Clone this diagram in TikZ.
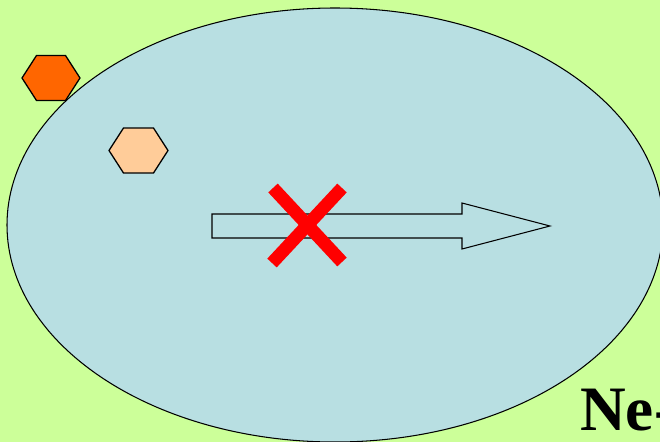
\documentclass[tikz,border=0pt]{standalone}
\usepackage{fontspec}
\setmainfont{Liberation Serif}
\usetikzlibrary{positioning}
\definecolor{fondoVerde}{HTML}{CCFF99}
\definecolor{celdaAzul}{HTML}{B8DFE2}
\definecolor{hexNaranja}{HTML}{FF6600}
\definecolor{hexMelocoton}{HTML}{FFCC99}

\begin{document}
\begin{tikzpicture}[x=0.03cm, y=-0.03cm,
        cell/.style={draw=black, fill=celdaAzul, line width=0.9pt},
        hexa/.style={draw=black, line width=1.1pt, line join=round},
        flecha/.style={draw=black, fill=celdaAzul, line width=0.9pt, line join=miter},
        cruz/.style={draw=red, line width=11pt},
        etiq/.style={font=\fontsize{54}{60}\selectfont\bfseries, inner sep=0pt}
    ]
        \fill[fondoVerde] (0,0) rectangle (660,442);
        \useasboundingbox (0,0) rectangle (660,442);
        \clip (0,0) rectangle (660,442);

        % cell
        \draw[cell] (335,225) ellipse [x radius=328, y radius=217];

        % particles
        \draw[hexa, fill=hexNaranja] (22,78) -- (36.5,55.5) -- (65.5,55.5) -- (80,78) -- (65.5,100.5) -- (36.5,100.5) -- cycle;
        \draw[hexa, fill=hexMelocoton] (109,150.5) -- (123.5,128) -- (153.5,128) -- (168,150.5) -- (153.5,173) -- (123.5,173) -- cycle;

        % blocked transport
        \draw[flecha] (212,214) -- (462,214) -- (462,203) -- (550,226) -- (462,249) -- (462,238) -- (212,238) -- cycle;
        \draw[cruz] (273,188) -- (342,262);
        \draw[cruz] (342,188) -- (272,263);

        \node[etiq, anchor=base west] (ne) at (580,430) {Ne-};
    \end{tikzpicture}
\end{document}
